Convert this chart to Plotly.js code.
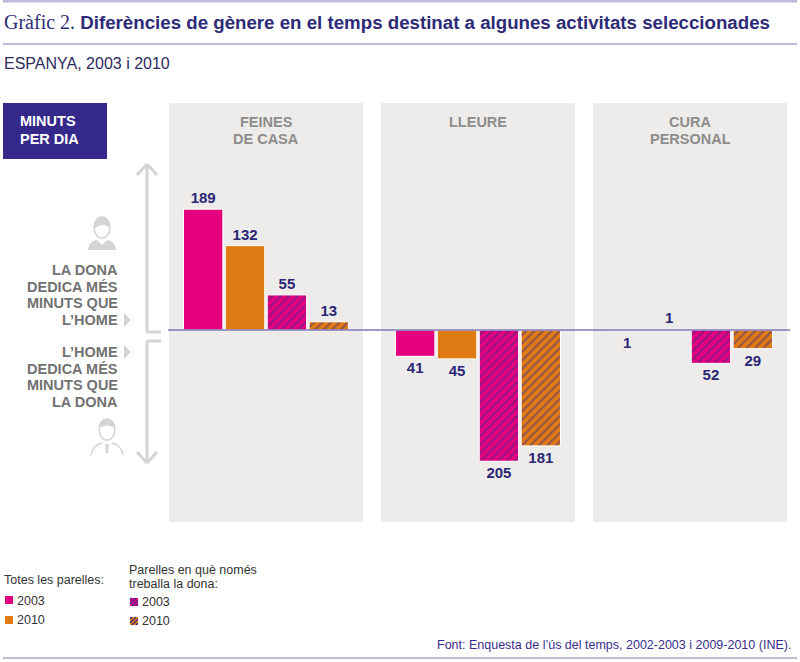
<!DOCTYPE html>
<html>
<head>
<meta charset="utf-8">
<script src="https://cdn.plot.ly/plotly-3.0.1.min.js"></script>
<style>html,body{margin:0;padding:0;background:#fff;}#chart{width:800px;height:662px;}</style>
</head>
<body>
<div id="chart"></div>
<script>
// ---- data ----
const categories = ['FEINES DE CASA', 'LLEURE', 'CURA PERSONAL'];
const panelLabels = [['FEINES', 'DE CASA'], ['LLEURE'], ['CURA', 'PERSONAL']];
const totes2003 = [189, -41, -1];
const totes2010 = [132, -45, 1];
const dona2003 = [55, -205, -52];
const dona2010 = [13, -181, -29];
const seriesNames = ['2003', '2010', '2003', '2010'];
const groupTitles = [['Totes les parelles:'], ['Parelles en què només', 'treballa la dona:']];
const womanText = ['LA DONA', 'DEDICA MÉS', 'MINUTS QUE', 'L’HOME'];
const manText = ['L’HOME', 'DEDICA MÉS', 'MINUTS QUE', 'LA DONA'];
const unitText = ['MINUTS', 'PER DIA'];

// ---- style ----
const W = 800, H = 662;
const M = {l: 160, r: 4, t: 103, b: 140, autoexpand: false};
const PINK = '#E5007D', ORANGE = '#E07A12', HATCH = '#3F2A8C';
const NAVY = '#2B2774', GRAYTXT = '#727272', PANEL = '#EDECEB', DECO = '#D4D4D4';
const SANS = "'Liberation Sans', Arial, sans-serif";
const px = x => (x - M.l) / (W - M.l - M.r);
const py = y => (H - M.b - y) / (H - M.t - M.b);

function barTrace(vals, name, color, hatched) {
  const t = {
    type: 'bar', x: categories, y: vals, name: name,
    text: vals.map(v => String(Math.abs(v))), textposition: 'outside',
    textfont: {family: SANS, size: 15, color: NAVY, weight: 'bold'},
    cliponaxis: false, hoverinfo: 'skip', showlegend: false,
    marker: {color: color, line: {color: '#ffffff', width: 1}}
  };
  if (hatched) {
    t.marker.pattern = {shape: '/', fillmode: 'overlay', fgcolor: HATCH, bgcolor: color, size: 6, solidity: 0.35};
  }
  return t;
}

const data = [
  barTrace(totes2003, seriesNames[0], PINK, false),
  barTrace(totes2010, seriesNames[1], ORANGE, false),
  barTrace(dona2003, seriesNames[2], PINK, true),
  barTrace(dona2010, seriesNames[3], ORANGE, true)
];

const shapes = [];
const annotations = [];
function label(x, y, text, anchor, font) {
  annotations.push({xref: 'paper', yref: 'paper', x: px(x), y: py(y), text: text, showarrow: false,
    xanchor: anchor, yanchor: 'middle', align: anchor === 'right' ? 'right' : 'left', font: font});
}
// rule lines
[[0, 2.5], [43, 45], [657, 659]].forEach(([a, b]) => shapes.push({type: 'rect', xref: 'paper', yref: 'paper', x0: px(3), x1: px(797), y0: py(a), y1: py(b), fillcolor: '#BFBAD7', line: {width: 0}}));
// panels
categories.forEach((c, i) => {
  shapes.push({type: 'rect', xref: 'x', yref: 'paper', x0: i - 0.4575, x1: i + 0.4575, y0: 0, y1: 1, fillcolor: PANEL, line: {width: 0}, layer: 'below'});
  panelLabels[i].forEach((ln, j) => annotations.push({xref: 'x', yref: 'paper', x: i, y: py(122 + 17 * j), text: ln, showarrow: false,
    xanchor: 'center', yanchor: 'middle', font: {family: SANS, size: 14.5, color: '#8C8C8C', weight: 'bold'}}));
});
// zero line
shapes.push({type: 'line', xref: 'paper', yref: 'y', x0: px(168), x1: px(790), y0: 0, y1: 0, line: {color: '#7F78B8', width: 1.5}, layer: 'above'});
// minuts box
shapes.push({type: 'rect', xref: 'paper', yref: 'paper', x0: px(3), x1: px(107), y0: py(103), y1: py(159), fillcolor: '#34288A', line: {width: 0}});
unitText.forEach((ln, j) => label(18, 121 + 18 * j, ln, 'left', {family: SANS, size: 14.5, color: '#ffffff', weight: 'bold'}));
// side texts
womanText.forEach((ln, j) => label(120, 270 + 16.7 * j, ln, 'right', {family: SANS, size: 14.5, color: GRAYTXT, weight: 'bold'}));
manText.forEach((ln, j) => label(120, 352 + 16.7 * j, ln, 'right', {family: SANS, size: 14.5, color: GRAYTXT, weight: 'bold'}));
// triangles
[320, 352].forEach(y => shapes.push({type: 'path', xref: 'paper', yref: 'paper',
  path: `M${px(124)},${py(y - 7)} L${px(131)},${py(y)} L${px(124)},${py(y + 7)} Z`, fillcolor: DECO, line: {width: 0}}));
// arrows
const seg = (x0, y0, x1, y1, col, w) => shapes.push({type: 'line', xref: 'paper', yref: 'paper', x0: px(x0), x1: px(x1), y0: py(y0), y1: py(y1), line: {color: col || DECO, width: w || 3}});
seg(147, 164, 147, 332); seg(146, 332, 161, 332);
seg(137, 175, 147, 164); seg(147, 164, 157, 175);
seg(147, 341, 147, 463); seg(146, 341, 161, 341);
seg(137, 452, 147, 463); seg(147, 463, 157, 452);
// person icons
function person(cx, headTop, isWoman) {
  shapes.push({type: 'circle', xref: 'paper', yref: 'paper', x0: px(cx - 8), x1: px(cx + 8), y0: py(headTop), y1: py(headTop + 21),
    fillcolor: '#FFFFFF', line: {color: DECO, width: 1.5}});
  if (isWoman) {
    shapes.push({type: 'path', xref: 'paper', yref: 'paper',
      path: `M${px(cx - 8)},${py(headTop + 12)} Q${px(cx - 8)},${py(headTop - 1)} ${px(cx)},${py(headTop)} Q${px(cx + 8)},${py(headTop - 1)} ${px(cx + 8)},${py(headTop + 12)} Q${px(cx + 2)},${py(headTop + 4)} ${px(cx - 8)},${py(headTop + 12)} Z`,
      fillcolor: DECO, line: {width: 0}});
    shapes.push({type: 'path', xref: 'paper', yref: 'paper',
      path: `M${px(cx - 14)},${py(headTop + 33)} Q${px(cx - 13)},${py(headTop + 24)} ${px(cx - 5)},${py(headTop + 23)} L${px(cx)},${py(headTop + 28)} L${px(cx + 5)},${py(headTop + 23)} Q${px(cx + 13)},${py(headTop + 24)} ${px(cx + 14)},${py(headTop + 33)} Z`,
      fillcolor: DECO, line: {width: 0}});
  } else {
    shapes.push({type: 'path', xref: 'paper', yref: 'paper',
      path: `M${px(cx - 8)},${py(headTop + 9)} Q${px(cx - 7)},${py(headTop - 1)} ${px(cx)},${py(headTop)} Q${px(cx + 7)},${py(headTop - 1)} ${px(cx + 8)},${py(headTop + 9)} Q${px(cx)},${py(headTop + 4)} ${px(cx - 8)},${py(headTop + 9)} Z`,
      fillcolor: DECO, line: {width: 0}});
    shapes.push({type: 'path', xref: 'paper', yref: 'paper',
      path: `M${px(cx - 16)},${py(headTop + 36)} Q${px(cx - 14)},${py(headTop + 26)} ${px(cx - 5)},${py(headTop + 24)} M${px(cx + 5)},${py(headTop + 24)} Q${px(cx + 14)},${py(headTop + 26)} ${px(cx + 16)},${py(headTop + 36)}`,
      line: {color: DECO, width: 1.5}});
    shapes.push({type: 'path', xref: 'paper', yref: 'paper',
      path: `M${px(cx - 2)},${py(headTop + 25)} L${px(cx + 2)},${py(headTop + 25)} L${px(cx + 1)},${py(headTop + 34)} L${px(cx - 1)},${py(headTop + 34)} Z`,
      fillcolor: DECO, line: {width: 0}});
  }
}
person(102, 217, true);
person(107, 419, false);

// legend (drawn by hand)
const LEGFONT = {family: SANS, size: 12.5, color: '#333333'};
function swatch(x, yTop, color, hatched) {
  const s = 8;
  shapes.push({type: 'rect', xref: 'paper', yref: 'paper', x0: px(x), x1: px(x + s), y0: py(yTop), y1: py(yTop + s), fillcolor: color, line: {width: 0}});
  if (hatched) {
    [-6, -2, 2, 6].forEach(d => {
      const u0 = Math.max(0, d), u1 = Math.min(s, s + d);
      seg(x + u0, yTop + s - (u0 - d), x + u1, yTop + s - (u1 - d), HATCH, 1.1);
    });
  }
}
groupTitles[0].forEach((ln, j) => label(2, 580 + 14 * j, ln, 'left', LEGFONT));
groupTitles[1].forEach((ln, j) => label(127, 570 + 14 * j, ln, 'left', LEGFONT));
swatch(5, 596, PINK, false); label(15, 601, seriesNames[0], 'left', LEGFONT);
swatch(5, 616, ORANGE, false); label(15, 620, seriesNames[1], 'left', LEGFONT);
swatch(130, 598, PINK, true); label(140, 602, seriesNames[2], 'left', LEGFONT);
swatch(130, 617, ORANGE, true); label(140, 621, seriesNames[3], 'left', LEGFONT);

// title + subtitle + source
label(2, 22, '<span style="font-family:\'Liberation Serif\',serif;font-weight:normal;font-size:20px">Gràfic 2.</span> <b>Diferències de gènere en el temps destinat a algunes activitats seleccionades</b>',
  'left', {family: SANS, size: 18.7, color: '#2D2A77'});
label(2, 63, 'ESPANYA, 2003 i 2010', 'left', {family: SANS, size: 16, color: '#2D2A5E'});
label(793, 645, 'Font: Enquesta de l’ús del temps, 2002-2003 i 2009-2010 (INE).', 'right', {family: SANS, size: 12.5, color: '#3A2E8A'});

const layout = {
  width: W, height: H, margin: M,
  paper_bgcolor: '#ffffff', plot_bgcolor: 'rgba(0,0,0,0)',
  barmode: 'group', bargap: 0.21, bargroupgap: 0.06,
  showlegend: false,
  xaxis: {range: [-0.5, 2.5], visible: false, fixedrange: true},
  yaxis: {range: [-300, 355], visible: false, fixedrange: true},
  shapes: shapes, annotations: annotations,
  font: {family: SANS}
};

Plotly.newPlot('chart', data, layout, {displayModeBar: false, staticPlot: true});
</script>
</body>
</html>
